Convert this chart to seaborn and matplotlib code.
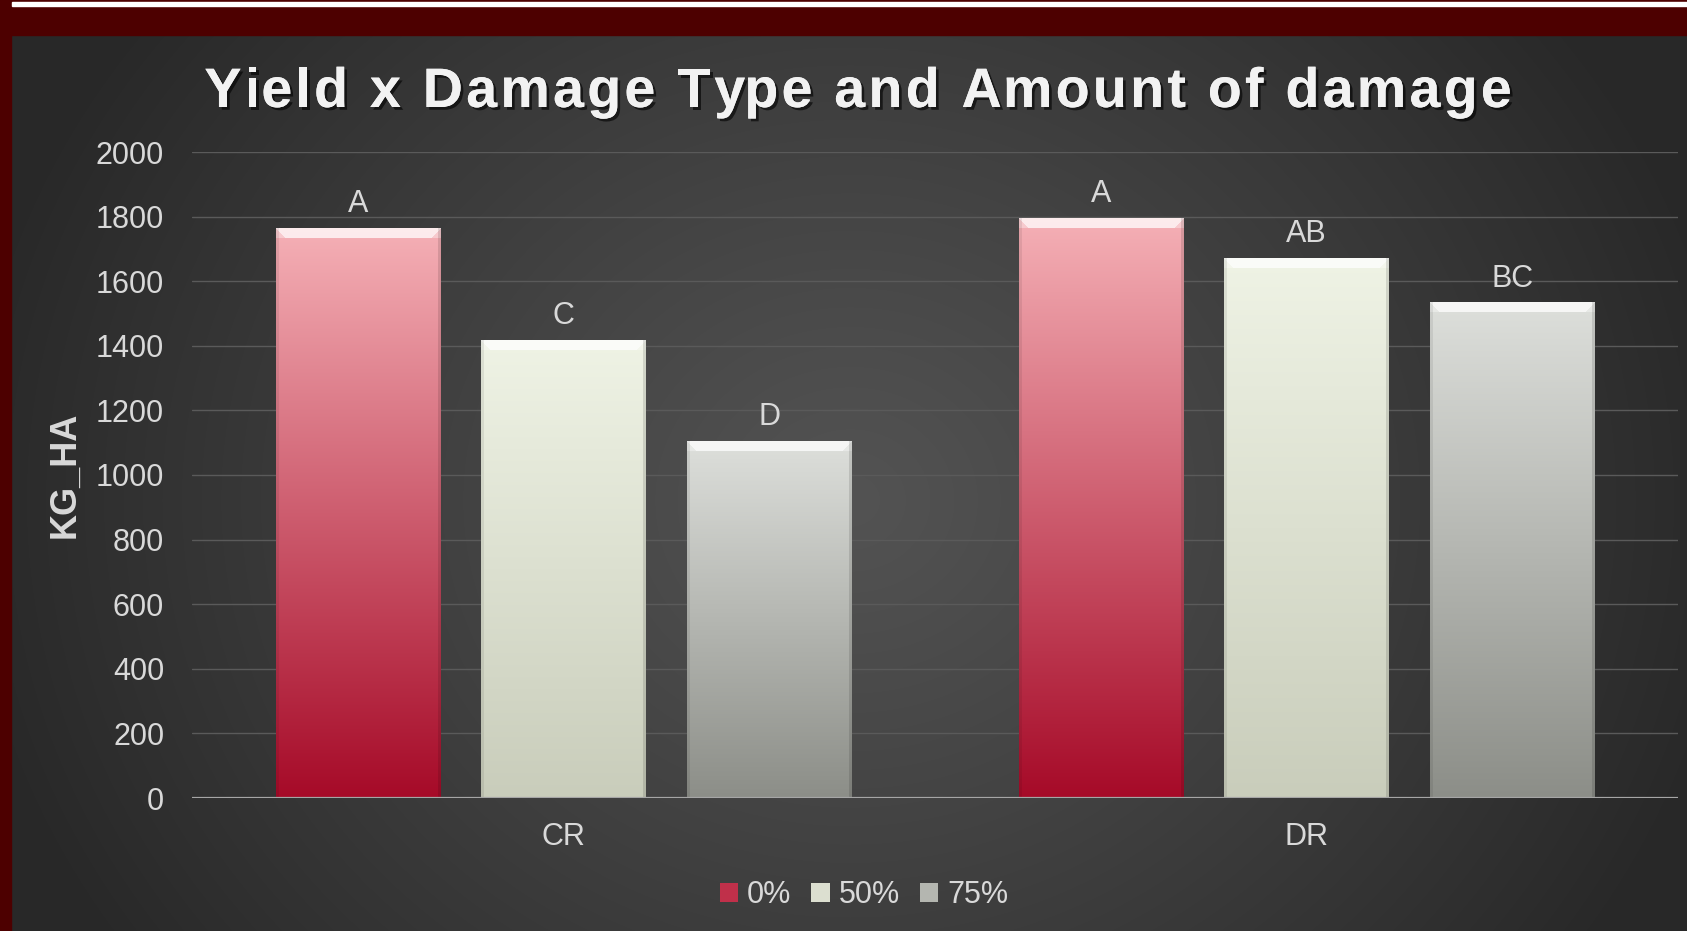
import numpy as np
import pandas as pd
import seaborn as sns
import matplotlib.pyplot as plt
import matplotlib.patheffects as pe
from matplotlib.patches import Rectangle, Patch
from matplotlib.colors import to_rgb
from matplotlib.font_manager import FontProperties

types = ['CR', 'DR']
damage_levels = ['0%', '50%', '75%']
yield_0 = [1764, 1795]
yield_50 = [1417, 1671]
yield_75 = [1104, 1534]
letters_0 = ['A', 'A']
letters_50 = ['C', 'AB']
letters_75 = ['D', 'BC']

df = pd.DataFrame({
    'Type': types * 3,
    'Damage': [d for d in damage_levels for _ in types],
    'KG_HA': yield_0 + yield_50 + yield_75,
})
letters = [letters_0, letters_50, letters_75]

# top / bottom colours of the bar gradients
grad = {
    '0%': ('#f5b0b6', '#a60a28'),
    '50%': ('#eff3e5', '#c9cdbb'),
    '75%': ('#dddfdb', '#8c8e88'),
}

sns.set_theme(style='dark')
plt.rcParams['font.family'] = ['Liberation Sans', 'DejaVu Sans']

W, H = 1687, 931
fig = plt.figure(figsize=(W / 100, H / 100), dpi=100)

# slide background: radial grey + dark red frame
bg = fig.add_axes([0, 0, 1, 1], zorder=-5)
yy, xx = np.mgrid[0:H, 0:W]
d = np.sqrt(((xx - 850) / 900.0) ** 2 + ((yy - 500) / 800.0) ** 2)
d = np.clip(d, 0, 1)
v = (0x53 - (0x53 - 0x28) * d ** 1.1) / 255.0
bg.imshow(np.dstack([v, v, v]), extent=[0, W, H, 0], aspect='auto')
bg.add_patch(Rectangle((0, 0), W, 35, color='#4d0000'))
bg.add_patch(Rectangle((0, 0), 11, H, color='#4d0000'))
bg.add_patch(Rectangle((12, 1.5), W, 4.5, color='white'))
bg.set_xlim(0, W)
bg.set_ylim(H, 0)
bg.axis('off')

ax = fig.add_axes([192 / W, 1 - 798 / H, (1678 - 192) / W, (798 - 152) / H])
ax.set_facecolor('none')
sns.barplot(data=df, x='Type', y='KG_HA', hue='Damage', order=types, hue_order=damage_levels,
            palette=[grad[k][1] for k in damage_levels], saturation=1,
            width=0.83, gap=0.2, legend=False, ax=ax)


def bar_image(top, bot, h):
    rows = max(int(h * 0.323), 2)
    cols = 166
    t = np.linspace(0, 1, rows)[:, None, None]
    img = np.array(to_rgb(top)) * (1 - t) + np.array(to_rgb(bot)) * t
    img = np.repeat(img, cols, axis=1)
    # bevel at the top
    for r in range(10):
        for c in range(cols):
            f = 0.75 if (r <= c < cols - r) else 0.35
            img[r, c] = img[r, c] * (1 - f) + f
    img[:, :3] *= 0.92
    img[:, -3:] *= 0.88
    return np.clip(img, 0, 1)


for i, cont in enumerate(ax.containers):
    top_c, bot_c = grad[damage_levels[i]]
    for j, bar in enumerate(cont):
        x0 = bar.get_x()
        w = bar.get_width()
        h = bar.get_height()
        bar.set_visible(False)
        ax.imshow(bar_image(top_c, bot_c, h), extent=[x0, x0 + w, 0, h],
                  aspect='auto', zorder=3, interpolation='bilinear')
        ax.annotate(letters[i][j], (x0 + w / 2, h), xytext=(0, 11.5), textcoords='offset points',
                    ha='center', va='baseline', fontsize=22, color='#d9d9d9')

ax.set_xlim(-0.5, 1.5)
ax.set_ylim(0, 2000)
ax.set_yticks(range(0, 2001, 200))
ax.yaxis.grid(True, color='#5a5a5a', lw=1.0)
ax.xaxis.grid(False)
ax.set_axisbelow(True)
for s in ax.spines.values():
    s.set_visible(False)
ax.axhline(0, color='#a6a6a6', lw=1.6, zorder=4)
ax.tick_params(axis='both', colors='#d9d9d9', labelsize=22, length=0)
ax.tick_params(axis='y', pad=20)
ax.tick_params(axis='x', pad=17)
ax.set_xlabel('')
ax.set_ylabel('')

fig.text(65 / W, 1 - 475 / H, 'KG_HA', rotation=90, ha='center', va='center',
         fontsize=26, fontweight='bold', color='#d9d9d9')

# title with a bit of letter spacing, drawn char by char
title = 'Yield x Damage Type and Amount of damage'
prop = FontProperties(family=['Liberation Sans', 'DejaVu Sans'], weight='bold', size=40)
renderer = fig.canvas.get_renderer()


def text_w(s):
    return renderer.get_text_width_height_descent(s, prop, ismath=False)[0]


spacing = 3.3
ref_w = text_w('H')
offsets = [text_w(title[:k] + 'H') - ref_w for k in range(len(title))]
total = text_w(title) + spacing * (len(title) - 1)
x_start = 858 - total / 2
shadow = [pe.withSimplePatchShadow(offset=(2, -2), shadow_rgbFace='black', alpha=0.6), pe.Normal()]
for k, ch in enumerate(title):
    if ch == ' ':
        continue
    fig.text((x_start + offsets[k] + spacing * k) / W, 1 - 107 / H, ch, ha='left', va='baseline',
             fontproperties=prop, color='#f2f2f2', path_effects=shadow)

handles = [Patch(facecolor=c, edgecolor='none') for c in ['#c0304a', '#dcdfd0', '#b4b6b0']]
fig.legend(handles, damage_levels, loc='center', bbox_to_anchor=(864 / W, 1 - 895 / H), ncol=3,
           frameon=False, fontsize=22, labelcolor='#d9d9d9', handlelength=0.6, handleheight=0.6,
           handletextpad=0.3, columnspacing=0.65)

fig.savefig('out.png', dpi=100)
